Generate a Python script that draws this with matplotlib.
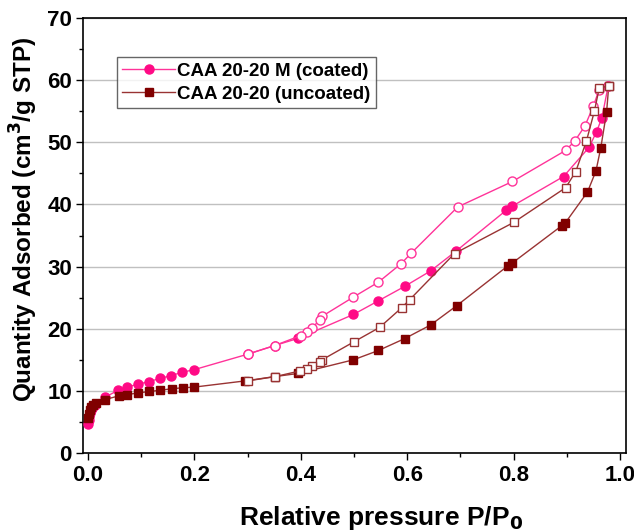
import numpy as np
import matplotlib.pyplot as plt
from matplotlib.ticker import MultipleLocator

plt.rcParams['font.family'] = ['Liberation Sans', 'DejaVu Sans']
plt.rcParams['font.weight'] = 'bold'

# CAA 20-20 M (coated) - адсорбция
coat_ads_x = [0.0005, 0.001, 0.002, 0.003, 0.005, 0.007, 0.01, 0.013, 0.032, 0.057, 0.073,
              0.093, 0.115, 0.135, 0.156, 0.177, 0.199, 0.30, 0.351, 0.395, 0.499, 0.546,
              0.595, 0.644, 0.692, 0.786, 0.798, 0.894, 0.942, 0.956, 0.966, 0.978]
coat_ads_y = [4.7, 5.3, 5.9, 6.4, 6.9, 7.3, 7.6, 7.8, 9.0, 10.1, 10.6,
              11.05, 11.5, 12.0, 12.45, 13.0, 13.4, 15.9, 17.3, 18.45, 22.3, 24.5,
              26.8, 29.3, 32.5, 39.05, 39.75, 44.5, 49.2, 51.7, 53.9, 59.1]
# десорбция
coat_des_x = [0.978, 0.961, 0.950, 0.934, 0.915, 0.898, 0.798, 0.695, 0.608, 0.589, 0.546,
              0.499, 0.440, 0.436, 0.421, 0.411, 0.400, 0.351, 0.300]
coat_des_y = [59.1, 58.5, 55.8, 52.6, 50.2, 48.7, 43.7, 39.6, 32.2, 30.5, 27.5,
              25.1, 22.0, 21.45, 20.1, 19.4, 18.9, 17.3, 15.9]

# CAA 20-20 (uncoated)
unc_ads_x = [0.0005, 0.001, 0.003, 0.006, 0.01, 0.015, 0.032, 0.058, 0.073, 0.093, 0.115,
             0.136, 0.158, 0.179, 0.199, 0.295, 0.351, 0.395, 0.499, 0.546, 0.595, 0.644,
             0.693, 0.789, 0.798, 0.891, 0.897, 0.939, 0.955, 0.964, 0.975, 0.979]
unc_ads_y = [5.6, 6.2, 6.9, 7.4, 7.8, 8.0, 8.6, 9.2, 9.4, 9.65, 9.9,
             10.1, 10.35, 10.5, 10.6, 11.6, 12.3, 12.8, 15.0, 16.5, 18.4, 20.6,
             23.7, 30.1, 30.6, 36.6, 37.0, 42.0, 45.4, 49.1, 54.9, 59.1]
unc_des_x = [0.979, 0.961, 0.952, 0.937, 0.917, 0.898, 0.800, 0.689, 0.605, 0.590, 0.548,
             0.500, 0.440, 0.436, 0.422, 0.411, 0.398, 0.352, 0.300]
unc_des_y = [59.1, 58.7, 55.0, 50.2, 45.3, 42.7, 37.1, 32.1, 24.7, 23.4, 20.2,
             17.9, 15.0, 14.6, 14.0, 13.5, 13.2, 12.3, 11.6]

pink = '#FF0A85'
pink_line = '#FF3399'
dred = '#800000'
dred_line = '#993333'

fig = plt.figure(figsize=(6.34, 5.32), dpi=100)
ax = fig.add_axes([0.131, 0.1485, 0.856, 0.8175])

ax.plot(coat_ads_x, coat_ads_y, '-o', color=pink_line, lw=1, ms=6.5,
        mfc=pink, mec=pink, label='CAA 20-20 M (coated)', zorder=3)
ax.plot(coat_des_x, coat_des_y, '-o', color=pink_line, lw=1, ms=6.5,
        mfc='white', mec=pink_line, zorder=4)
ax.plot(unc_ads_x, unc_ads_y, '-s', color=dred_line, lw=1, ms=6,
        mfc=dred, mec=dred, label='CAA 20-20 (uncoated)', zorder=3)
ax.plot(unc_des_x, unc_des_y, '-s', color=dred_line, lw=1, ms=6,
        mfc='white', mec=dred_line, zorder=4)

ax.set_xlim(-0.0094, 1.011)
ax.set_ylim(0, 70)
ax.xaxis.set_major_locator(MultipleLocator(0.2))
ax.xaxis.set_minor_locator(MultipleLocator(0.1))
ax.yaxis.set_major_locator(MultipleLocator(10))
ax.yaxis.set_minor_locator(MultipleLocator(5))
ax.tick_params(which='major', direction='out', length=5, width=1, labelsize=16)
ax.tick_params(which='minor', direction='out', length=3, width=1)
ax.tick_params(axis='y', pad=3)
ax.grid(axis='y', color='#C0C0C0', lw=1)
ax.set_axisbelow(True)
for s in ax.spines.values():
    s.set_linewidth(1.2)

ax.set_xlabel('Relative pressure P/P$_\\mathbf{0}$', fontsize=19, fontweight='bold')
ax.set_ylabel('Quantity Adsorbed (cm$^\\mathbf{3}$/g STP)', fontsize=17.5, fontweight='bold')
ax.xaxis.set_label_coords(0.549, -0.118)
ax.yaxis.set_label_coords(-0.080, 0.536)

leg = ax.legend(loc='upper left', bbox_to_anchor=(0.062, 0.91), fontsize=13.5,
                frameon=True, fancybox=False, handlelength=2.8, borderpad=0.3,
                labelspacing=0.3, handletextpad=0.1, borderaxespad=0)
leg.get_frame().set_edgecolor('#404040')
leg.get_frame().set_linewidth(1)
for t in leg.get_texts():
    t.set_fontweight('bold')

plt.savefig('out.png', dpi=100)
